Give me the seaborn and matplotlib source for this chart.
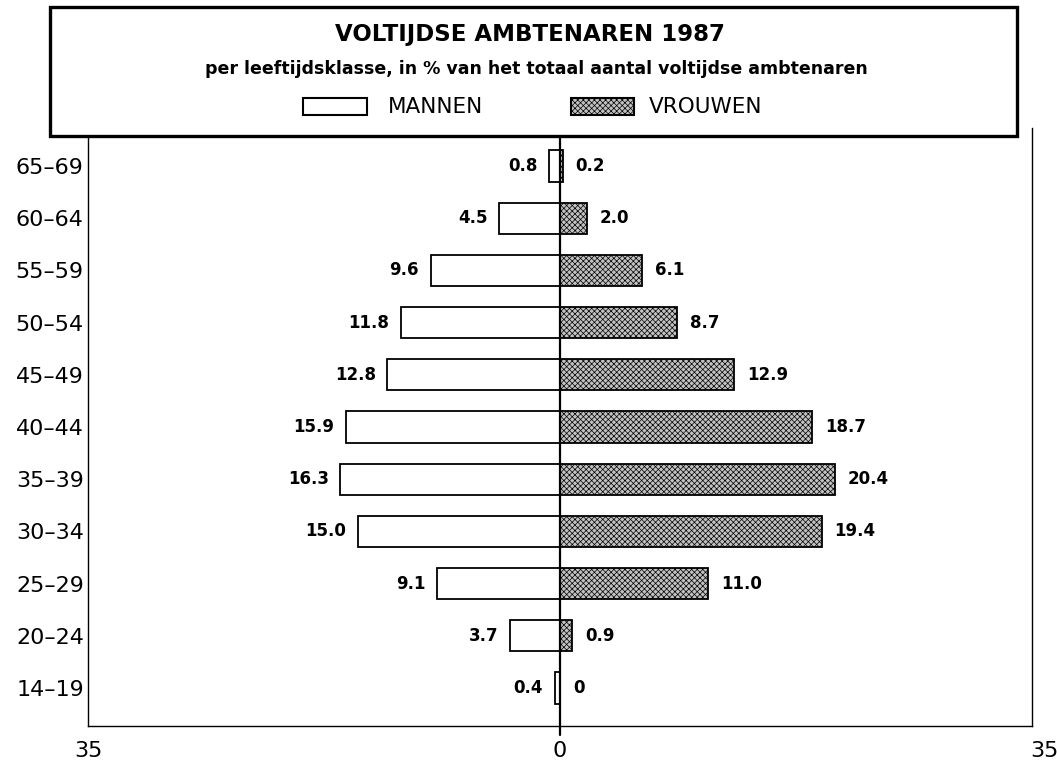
import matplotlib
matplotlib.use("Agg")
import matplotlib.pyplot as plt
import matplotlib.transforms as mtransforms
from matplotlib.patches import Rectangle
import pandas as pd
import seaborn as sns

# leeftijdsklassen, van boven naar beneden
age_groups = ["65–69", "60–64", "55–59", "50–54", "45–49", "40–44",
              "35–39", "30–34", "25–29", "20–24", "14–19"]
mannen = [0.8, 4.5, 9.6, 11.8, 12.8, 15.9, 16.3, 15.0, 9.1, 3.7, 0.4]
vrouwen = [0.2, 2.0, 6.1, 8.7, 12.9, 18.7, 20.4, 19.4, 11.0, 0.9, 0.0]
x_ticks = [-35, 0, 35]
x_ticklabels = ["35", "0", "35"]
legend_labels = ["MANNEN", "VROUWEN"]

title = "VOLTIJDSE AMBTENAREN 1987"
subtitle = "per leeftijdsklasse, in % van het totaal aantal voltijdse ambtenaren"

W, H = 1057, 764
GREY = "#c2c2c2"
HATCH = "xxxxxx"

sns.set_style("white")
plt.rcParams["font.family"] = ["DejaVu Sans"]
plt.rcParams["text.color"] = "black"
plt.rcParams["xtick.color"] = "black"
plt.rcParams["ytick.color"] = "black"
plt.rcParams["hatch.linewidth"] = 0.5
plt.rcParams["hatch.color"] = "#3a3a3a"

df = pd.DataFrame({"leeftijd": age_groups, "mannen": mannen, "vrouwen": vrouwen})
df["mannen_neg"] = -df["mannen"]

fig = plt.figure(figsize=(W / 100, H / 100), dpi=100)
ax = fig.add_axes([88 / W, 1 - 726 / H, (1032 - 88) / W, (726 - 128) / H])

sns.barplot(data=df, y="leeftijd", x="mannen_neg", order=age_groups, orient="h",
            color="white", edgecolor="black", linewidth=1.3, width=0.6, ax=ax)
sns.barplot(data=df, y="leeftijd", x="vrouwen", order=age_groups, orient="h",
            color=GREY, edgecolor="black", linewidth=1.3, width=0.6, ax=ax)
for p in ax.patches[len(age_groups):]:
    p.set_hatch(HATCH)

for i, (m, v) in enumerate(zip(mannen, vrouwen)):
    ax.text(-m - 0.85, i, f"{m:.1f}", ha="right", va="center",
            fontsize=12, fontweight="bold")
    vlab = "0" if v == 0 else f"{v:.1f}"
    ax.text(v + 0.95, i, vlab, ha="left", va="center",
            fontsize=12, fontweight="bold")

ax.set_xlim(-35, 35)
ax.set_ylim(10 + 38 / 52.2, -(166 - 128) / 52.2)
ax.axvline(0, color="black", lw=1.6, ymin=-0.015, clip_on=False)
ax.set_xticks(x_ticks)
ax.set_xticklabels(x_ticklabels, fontsize=16)
ax.tick_params(axis="y", labelsize=16, length=0, pad=3)
ax.tick_params(axis="x", length=0, pad=11)
ax.set_xlabel("")
ax.set_ylabel("")
for s in ["left", "right", "bottom"]:
    ax.spines[s].set_color("black")
    ax.spines[s].set_linewidth(1.0)
ax.spines["top"].set_visible(False)

# rechter label iets naar rechts, zoals in het origineel
xl = ax.get_xticklabels()
xl[2].set_transform(xl[2].get_transform() +
                    mtransforms.ScaledTranslation(12 / 100, 0, fig.dpi_scale_trans))

# kader met titel en legenda
box = Rectangle((50 / W, 1 - 136 / H), (1017 - 50) / W, (136 - 7) / H,
                transform=fig.transFigure, facecolor="white", edgecolor="black",
                linewidth=2.4, zorder=10)
fig.add_artist(box)
fig.text(530 / W, 1 - 34 / H, title, ha="center", va="center",
         fontsize=16.5, fontweight="bold", zorder=11)
fig.text(536 / W, 1 - 69 / H, subtitle, ha="center", va="center",
         fontsize=12.5, fontweight="bold", zorder=11)

key_y = 1 - 115 / H
key_h = 17 / H
fig.add_artist(Rectangle((303 / W, key_y), 64 / W, key_h, transform=fig.transFigure,
                         facecolor="white", edgecolor="black", linewidth=1.5, zorder=11))
fig.add_artist(Rectangle((571 / W, key_y), 63 / W, key_h, transform=fig.transFigure,
                         facecolor=GREY, edgecolor="black", linewidth=1.5,
                         hatch=HATCH, zorder=11))
fig.text(388 / W, 1 - 107 / H, legend_labels[0], ha="left", va="center",
         fontsize=15.5, zorder=11)
fig.text(649 / W, 1 - 107 / H, legend_labels[1], ha="left", va="center",
         fontsize=15.5, zorder=11)

fig.savefig("out.png", dpi=100)
